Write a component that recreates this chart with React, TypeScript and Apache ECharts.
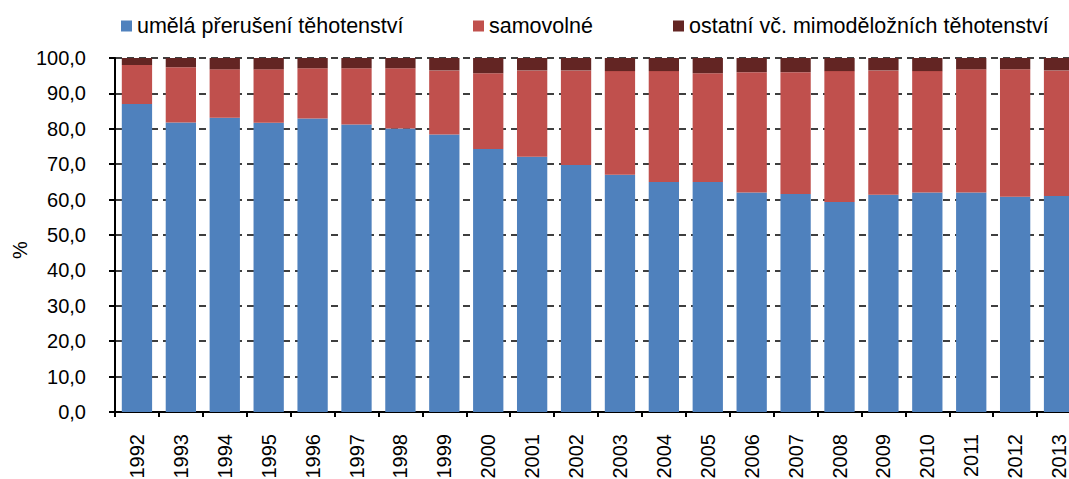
import React, { useEffect, useRef } from "react";
import * as echarts from "echarts";

const years = ["1992","1993","1994","1995","1996","1997","1998","1999","2000","2001","2002","2003","2004","2005","2006","2007","2008","2009","2010","2011","2012","2013"];
const umela = [87.0,81.8,83.1,81.7,82.9,81.2,80.1,78.4,74.3,72.1,69.8,67.0,65.0,65.0,62.0,61.6,59.3,61.4,62.0,62.0,60.8,61.0];
const samovolne = [11.0,15.6,13.7,15.1,14.2,15.9,17.0,18.1,21.4,24.4,26.7,29.3,31.3,30.7,34.0,34.4,37.0,35.1,34.3,34.8,36.0,35.5];
const ostatni = [2.0,2.6,3.2,3.2,2.9,2.9,2.9,3.5,4.3,3.5,3.5,3.7,3.7,4.3,4.0,4.0,3.7,3.5,3.7,3.2,3.2,3.5];
const names = ["umělá přerušení těhotenství", "samovolné", "ostatní vč. mimoděložních těhotenství"];
const colors = ["#4F81BD", "#C0504D", "#632523"];

const FONT = "Liberation Sans, Arial, sans-serif";

export default function App() {
  const ref = useRef<HTMLDivElement>(null);
  useEffect(() => {
    const chart = echarts.init(ref.current!, null, { renderer: "svg" });
    const legendLefts = [116, 468, 668];
    chart.setOption({
      animation: false,
      color: colors,
      textStyle: { fontFamily: FONT },
      legend: names.map((n, i) => ({
        data: [n],
        left: legendLefts[i],
        top: 10,
        itemWidth: 11,
        itemHeight: 11,
        icon: "rect",
        textStyle: { fontFamily: FONT, fontSize: 21.5, color: "#000" },
        selectedMode: false,
      })),
      grid: {
        left: 115,
        right: -12,
        top: 58,
        bottom: 67,
        containLabel: false,
        outerBoundsMode: "none",
      },
      xAxis: {
        type: "category",
        data: years,
        axisLine: { lineStyle: { color: "#000", width: 2 } },
        axisTick: { show: true, length: 5, lineStyle: { color: "#000", width: 2 } },
        axisLabel: { rotate: 90, fontSize: 20, color: "#000", fontFamily: FONT, margin: 22 },
      },
      yAxis: {
        type: "value",
        min: 0,
        max: 100,
        interval: 10,
        axisLine: { show: true, lineStyle: { color: "#000", width: 2 } },
        axisTick: { show: true, length: 6, lineStyle: { color: "#000", width: 2 } },
        axisLabel: {
          fontSize: 20,
          color: "#000",
          fontFamily: FONT,
          margin: 29,
          formatter: (v: number) => v.toFixed(1).replace(".", ","),
        },
        splitLine: { show: true, lineStyle: { color: "#000", type: [7, 5], width: 1.5 } },
      },
      graphic: [
        {
          type: "text",
          x: 20,
          y: 250,
          rotation: Math.PI / 2,
          style: {
            text: "%",
            fontSize: 20,
            fontFamily: FONT,
            fill: "#000",
            align: "center",
            verticalAlign: "middle",
          },
        },
      ],
      series: [umela, samovolne, ostatni].map((d, i) => ({
        name: names[i],
        type: "bar",
        stack: "total",
        data: d,
        barCategoryGap: "31%",
        itemStyle: { color: colors[i] },
      })),
    });
    return () => chart.dispose();
  }, []);
  return (
    <div
      ref={ref}
      style={{ position: "absolute", left: 0, top: 0, width: 1069, height: 479, background: "#fff" }}
    />
  );
}
